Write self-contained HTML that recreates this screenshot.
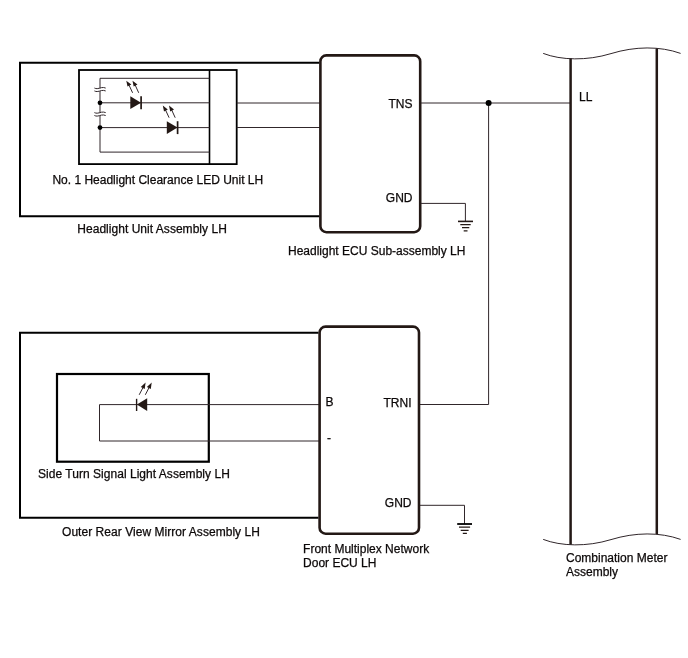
<!DOCTYPE html>
<html>
<head>
<meta charset="utf-8">
<style>
html,body{margin:0;padding:0;background:#fff;}
body{width:688px;height:658px;overflow:hidden;position:relative;font-family:"Liberation Sans",sans-serif;}
svg{position:absolute;left:0;top:0;will-change:transform;}
text{font-family:"Liberation Sans",sans-serif;font-size:12px;fill:#0c0808;stroke:#0c0808;stroke-width:0.250px;}
.k{stroke:#231815;fill:none;}
.w{stroke:#30262a;stroke-width:1;fill:none;}
</style>
</head>
<body>
<svg width="688" height="658" viewBox="0 0 688 658">
<!-- top outer box -->
<path class="k" style="stroke:#000" stroke-width="2" d="M319.500 62.800H20V216.200H319.500"/>
<!-- LED unit box -->
<rect class="k" style="stroke:#000" stroke-width="1.800" x="79" y="70" width="157.700" height="94.100"/>
<line class="k" style="stroke:#000" stroke-width="1.600" x1="209.500" y1="70" x2="209.500" y2="164"/>
<!-- LED unit wires -->
<path class="w" d="M209.500 78.300H100V152.100H209.500M100 102.800H209.500M100 127.600H209.500"/>
<circle cx="100" cy="102.800" r="2.400" fill="#000"/>
<circle cx="100" cy="127.600" r="2.400" fill="#000"/>
<!-- breaks -->
<g id="brk1" transform="translate(100,89.45)">
<rect x="-2" y="-1.100" width="4" height="2.700" fill="#fff"/>
<path class="w" d="M-5.600 -1.400C-4.600 -0.900 -3.800 -0.800 -2.800 -0.800C-1.500 -0.800 0.200 -1.500 1.400 -1.800C2.500 -2.100 4.500 -2 5.700 -1.400M-5.600 1.500C-4.600 2 -3.800 2.100 -2.800 2.100C-1.500 2.100 0.200 1.400 1.400 1.100C2.500 0.800 4.500 0.900 5.700 1.500"/>
</g>
<g id="brk2" transform="translate(100,114)">
<rect x="-2" y="-1.100" width="4" height="2.700" fill="#fff"/>
<path class="w" d="M-5.600 -1.400C-4.600 -0.900 -3.800 -0.800 -2.800 -0.800C-1.500 -0.800 0.200 -1.500 1.400 -1.800C2.500 -2.100 4.500 -2 5.700 -1.400M-5.600 1.500C-4.600 2 -3.800 2.100 -2.800 2.100C-1.500 2.100 0.200 1.400 1.400 1.100C2.500 0.800 4.500 0.900 5.700 1.500"/>
</g>
<!-- diodes -->
<g id="d1">
<path d="M130.300 96.300L141 102.700L130.300 109.100Z" fill="#231815"/>
<line class="k" stroke-width="1.700" x1="141.100" y1="96.300" x2="141.100" y2="109.200"/>
<path class="w" d="M132.600 92.800L128.500 84M138.700 92.800L134.700 84"/>
<path d="M126.300 80.700L131.300 84.600L127.500 86.600Z M132.500 80.700L137.500 84.600L133.700 86.600Z" fill="#231815"/>
</g>
<g id="d2" transform="translate(36.500,24.900)">
<path d="M130.300 96.300L141 102.700L130.300 109.100Z" fill="#231815"/>
<line class="k" stroke-width="1.700" x1="141.100" y1="96.300" x2="141.100" y2="109.200"/>
<path class="w" d="M132.600 92.800L128.500 84M138.700 92.800L134.700 84"/>
<path d="M126.300 80.700L131.300 84.600L127.500 86.600Z M132.500 80.700L137.500 84.600L133.700 86.600Z" fill="#231815"/>
</g>
<!-- wires to ECU -->
<path class="w" d="M236.700 103H320M236.700 127.500H320"/>
<!-- ECU 1 -->
<rect x="320.400" y="55.400" width="99.800" height="176.800" rx="6" ry="6" fill="#fff" class="k" stroke-width="2.600"/>
<text x="412.500" y="108" text-anchor="end">TNS</text>
<text x="412.500" y="202" text-anchor="end">GND</text>
<!-- TNS wire -->
<path class="w" d="M421 103H570M488.600 103V404.500H420"/>
<circle cx="488.600" cy="103" r="3" fill="#000"/>
<!-- GND1 -->
<path class="w" d="M421 203.400H465.400V221"/>
<path class="k" stroke-width="1.600" d="M458 221.400H473"/>
<path class="k" stroke-width="1.200" d="M460.300 224.600H470.700M462 227.700H469.300M463.700 230.900H467.500"/>
<!-- bottom outer box -->
<path class="k" style="stroke:#000" stroke-width="2" d="M318.500 332.700H20V517.800H318.500"/>
<rect class="k" style="stroke:#000" stroke-width="2.200" x="57" y="374" width="151.800" height="87.700"/>
<path class="w" d="M320 404.600H99.500V441H320"/>
<g id="d3">
<path d="M147.200 398.300L136.900 404.600L147.200 410.900Z" fill="#231815"/>
<line class="k" stroke-width="1.400" x1="136.600" y1="398.800" x2="136.600" y2="411"/>
<path class="w" d="M139.200 394.800L143 387.500M145.300 394.800L149.100 387.500"/>
<path d="M145.600 382.400L140.800 387L144.700 389Z M151.700 382.400L146.900 387L150.800 389Z" fill="#231815"/>
</g>
<!-- ECU 2 -->
<rect x="319.600" y="326.600" width="99.400" height="207.100" rx="6" ry="6" fill="#fff" class="k" stroke-width="2.600"/>
<text x="325.500" y="406">B</text>
<text x="327" y="442.400">-</text>
<text x="411.500" y="407" text-anchor="end">TRNI</text>
<text x="411.500" y="507" text-anchor="end">GND</text>
<!-- GND2 -->
<path class="w" d="M420 505.300H464.500V524"/>
<path class="k" style="stroke:#000" stroke-width="1.800" d="M457.200 524H472"/>
<path class="k" stroke-width="1.200" d="M459 527.200H470.100M460.700 530.300H468.600M462.800 533.400H466.900"/>
<!-- meter -->
<line class="k" stroke-width="2.500" x1="570.600" y1="58.300" x2="570.600" y2="544.700"/>
<line class="k" stroke-width="2.500" x1="656.800" y1="48.200" x2="656.800" y2="534.300"/>
<path class="w" d="M543.200 53.400C561 60.300 587 61 611 53.600S660 46 680.600 53.400"/>
<path class="w" d="M543.200 539.400C561 546.300 587 547 611 539.600S660 532 680.600 539.400"/>
<text x="579" y="101">LL</text>
<!-- labels -->
<text x="52.400" y="183.500">No. 1 Headlight Clearance LED Unit LH</text>
<text x="77.300" y="233" textLength="149.500">Headlight Unit Assembly LH</text>
<text x="288" y="255">Headlight ECU Sub-assembly LH</text>
<text x="38" y="477.800" textLength="191.800">Side Turn Signal Light Assembly LH</text>
<text x="62" y="535.600" textLength="197.900">Outer Rear View Mirror Assembly LH</text>
<text x="303.100" y="552.900">Front Multiplex Network</text>
<text x="303.100" y="566.900">Door ECU LH</text>
<text x="566" y="562.400">Combination Meter</text>
<text x="566" y="576">Assembly</text>
</svg>
</body>
</html>
